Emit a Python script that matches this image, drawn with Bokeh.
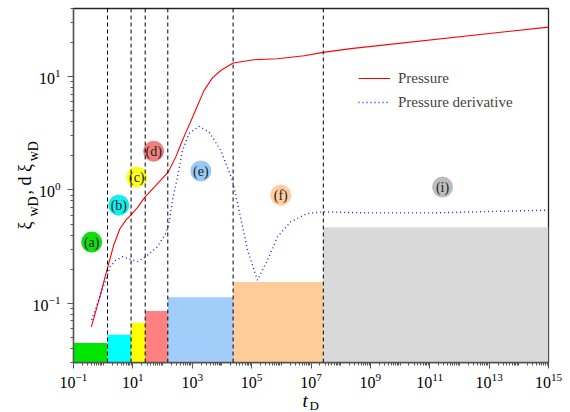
import math
from bokeh.plotting import figure
from bokeh.models import Span, Label, Legend, LegendItem, FixedTicker, LogTickFormatter
from bokeh.core.properties import value
from bokeh.embed import file_html
from bokeh.resources import INLINE

FONT = "Liberation Serif"
NB = "\u00a0"

# ---- data -------------------------------------------------------------
pressure_t = [0.40, 0.77, 1.4, 2.27, 3.62, 5.78, 8.5, 14.7, 25, 87, 155, 279, 407, 589, 783,
              1320, 2500, 4800, 9100, 2.4e4, 1.2e5, 7.4e5, 5.9e6, 2.6e7, 2.2e8, 1e15]
pressure_v = [0.062, 0.114, 0.205, 0.327, 0.452, 0.542, 0.60, 0.705, 0.86, 1.22, 1.44, 1.96,
              2.51, 3.16, 3.72, 5.13, 7.57, 9.77, 11.35, 13.2, 14.1, 14.4, 15.3, 16.4, 17.7,
              27.4]

deriv_t = [0.41, 0.64, 1.22, 1.71, 2.66, 4.47, 8.5, 14.3, 27.2, 67, 128, 166, 216, 318, 469,
           783, 1700, 3690, 9140, 2.26e4, 3.78e4, 7.26e4, 1.57e5, 3.42e5, 7.43e5, 2.08e6,
           7.6e6, 2.6e7, 7.9e8, 1.4e11, 1e15]
deriv_v = [0.0713, 0.100, 0.160, 0.210, 0.240, 0.258, 0.244, 0.233, 0.258, 0.315, 0.414, 0.507,
           0.813, 1.30, 2.24, 3.15, 3.65, 3.25, 2.24, 1.22, 0.664, 0.295, 0.160, 0.240, 0.386,
           0.524, 0.621, 0.641, 0.628, 0.628, 0.664]

# flow-regime boundaries (dashed lines) and bar heights
regime_edges = [0.1, 1.4, 8.7, 26, 150, 2.38e4, 2.6e7, 1e15]
regime_tops = [0.0445, 0.0526, 0.067, 0.0855, 0.113, 0.154, 0.47]
regime_colors = ["#00e600", "#00ffff", "#ffff00", "#ff8080", "#a0cdfa", "#ffcc99", "#d9d9d9"]

# regime markers
marker_labels = ["(a)", "(b)", "(c)", "(d)", "(e)", "(f)", "(i)"]
marker_t = [0.41, 3.36, 13.5, 50, 1950, 9.6e5, 2.7e11]
marker_v = [0.347, 0.734, 1.30, 2.20, 1.47, 0.90, 1.06]
marker_colors = ["#11dd11", "#11eeee", "#ffff22", "#f08080", "#99c8f5", "#ffcca0", "#bdbdbd"]

x_major = [1e-1, 1e1, 1e3, 1e5, 1e7, 1e9, 1e11, 1e13, 1e15]
y_major = [0.1, 1, 10]

# ---- figure -----------------------------------------------------------
p = figure(width=570, height=412, x_axis_type="log", y_axis_type="log",
           x_range=(0.1, 1e15), y_range=(0.03, 40),
           output_backend="svg", toolbar_location=None,
           min_border_left=73, min_border_right=22, min_border_top=8, min_border_bottom=50)
p.grid.visible = False
p.outline_line_color = "#222222"
p.outline_line_width = 1.3
p.background_fill_color = "white"
p.border_fill_color = "white"

# ticks
x_minor = []
for k in range(-1, 15):
    for m in range(1, 10):
        v = m * 10.0 ** k
        if not any(abs(v - t) / t < 1e-9 for t in x_major):
            x_minor.append(v)
y_minor = []
for k in range(-2, 2):
    for m in range(1, 10):
        v = m * 10.0 ** k
        if 0.029 < v < 41 and not any(abs(v - t) / t < 1e-9 for t in y_major):
            y_minor.append(v)

p.xaxis.ticker = FixedTicker(ticks=x_major, minor_ticks=x_minor)
p.yaxis.ticker = FixedTicker(ticks=y_major, minor_ticks=y_minor)
for ax in (p.xaxis, p.yaxis):
    ax.formatter = LogTickFormatter()
    ax.major_label_text_font = FONT
    ax.major_label_text_font_size = "16px"
    ax.major_label_text_color = "black"
    ax.axis_line_color = "#555555"
    ax.axis_line_width = 1.3
    ax.major_tick_line_color = "#555555"
    ax.minor_tick_line_color = "#555555"
    ax.major_tick_in = 0
    ax.major_tick_out = 6
    ax.minor_tick_in = 0
    ax.minor_tick_out = 3
p.xaxis.major_label_standoff = 4
p.yaxis.major_label_standoff = 7

# bars
p.quad(left=regime_edges[:-1], right=regime_edges[1:], bottom=0.001, top=regime_tops,
       fill_color=regime_colors, line_color=None)

# dashed boundaries
for b in regime_edges[1:-1]:
    p.add_layout(Span(location=b, dimension="height", line_color="black",
                      line_dash="4 3", line_width=1))

# curves
r_p = p.line(pressure_t, pressure_v, line_color="red", line_width=1.1)
r_d = p.line(deriv_t, deriv_v, line_color="#1a1aff", line_width=1.4, line_dash="1 3")

# markers
p.scatter(marker_t, marker_v, size=21, fill_color=marker_colors, line_color=None)
p.text(marker_t, marker_v, text=marker_labels, text_align="center", text_baseline="middle",
       text_font=value(FONT), text_font_size="14px", text_color="#222222")

legend = Legend(items=[LegendItem(label="Pressure", renderers=[r_p]),
                       LegendItem(label="Pressure derivative", renderers=[r_d])],
                location=(285, 250), border_line_color=None, background_fill_alpha=0,
                label_text_font=FONT, label_text_font_size="15px", glyph_width=32,
                glyph_height=20, label_height=20, spacing=4, padding=0, margin=0,
                label_standoff=8)
p.add_layout(legend)

# axis titles: labels placed in side panels (coordinates relative to their panel)
def lab(txt, x, y, size, place, angle=0.0, italic=False):
    p.add_layout(Label(x=x, y=y, x_units="screen", y_units="screen", text=txt,
                       angle=angle, text_font=FONT, text_font_size=size,
                       text_font_style="italic" if italic else "normal",
                       text_align="left", text_baseline="alphabetic", text_color="black"),
                 place)

a = math.pi / 2
y_main = "ξ" + NB * 6 + "," + NB + "d" + NB + "ξ"
y_sub = "wD" + NB * 10 + "wD"
lab(y_main, 15, 133, "18px", "left", a)          # left panel after the y axis
lab("t", 298, -38, "19px", "left", 0, italic=True)
lab(y_sub, -515, 146, "14px", "right", a)
lab("D", 236, 0, "13px", "below")

open("out.html", "w").write(file_html(p, INLINE))
